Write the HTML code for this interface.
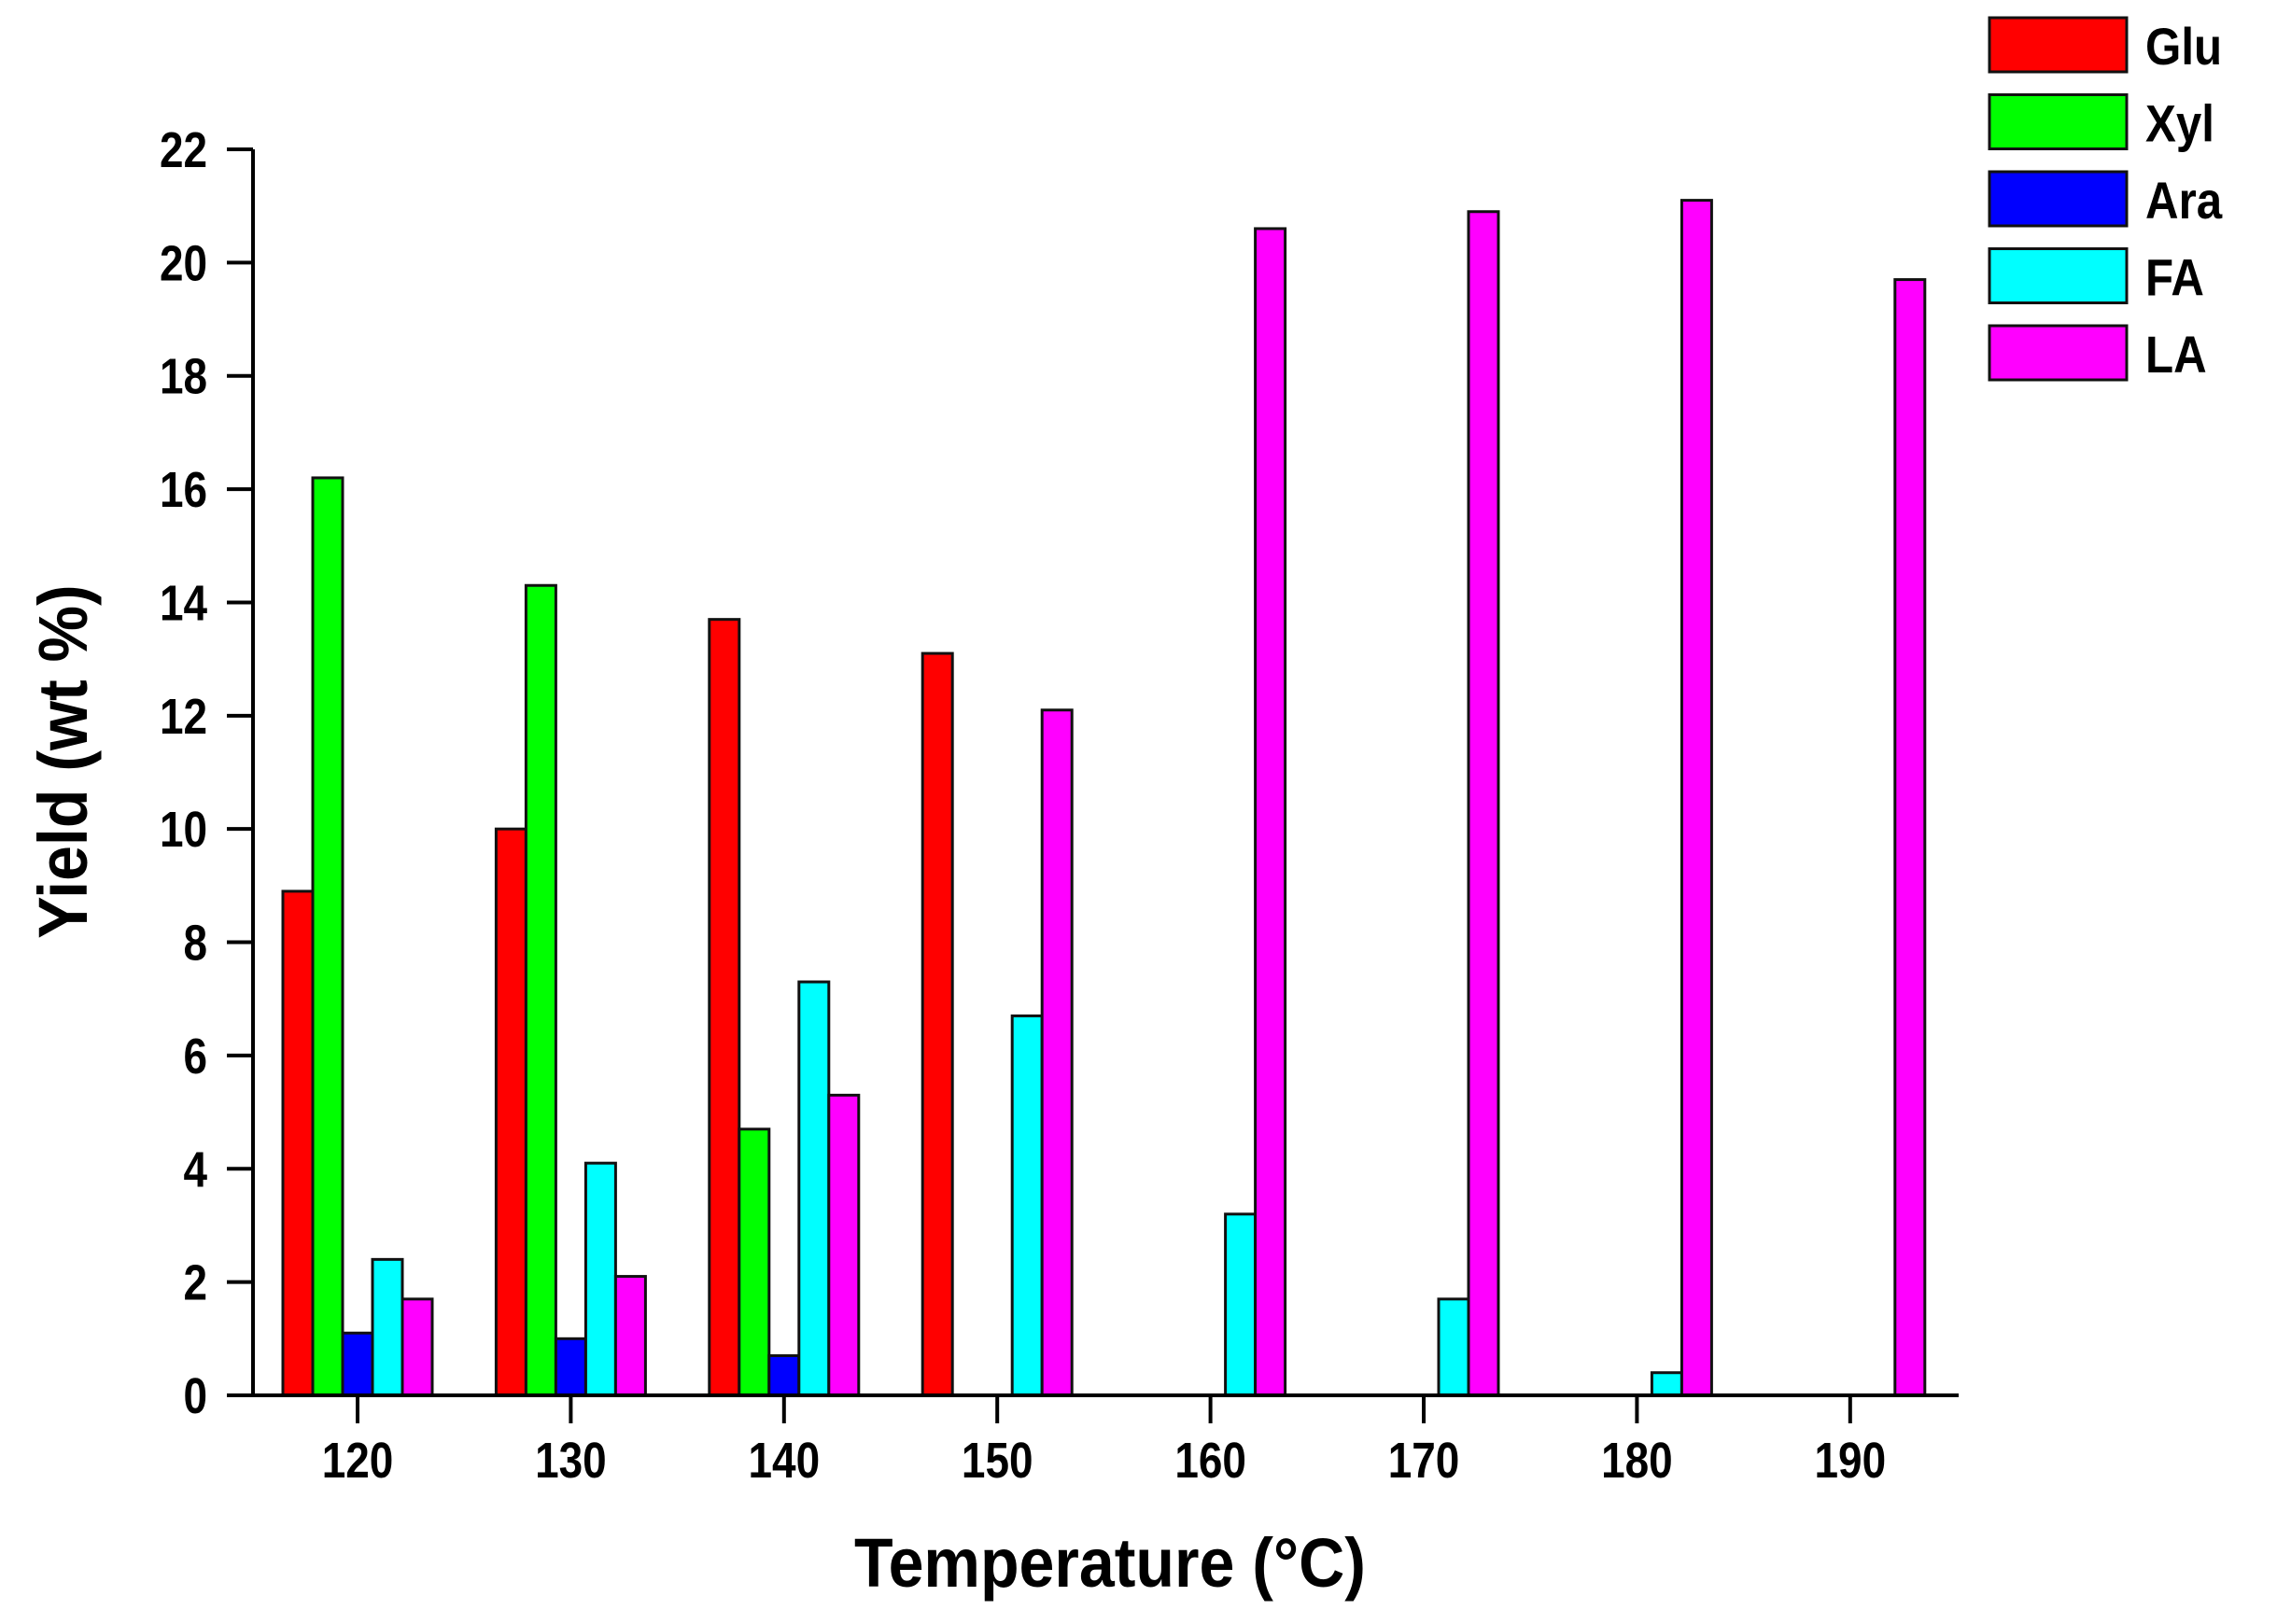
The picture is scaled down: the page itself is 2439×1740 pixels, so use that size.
<!DOCTYPE html>
<html><head><meta charset="utf-8"><style>
html,body{margin:0;padding:0;background:#fff;}
svg{display:block;font-family:"Liberation Sans",Arial,sans-serif;font-weight:bold;}
</style></head><body>
<svg id="chart" width="2439" height="1740" viewBox="0 0 2439 1740" xmlns="http://www.w3.org/2000/svg">
<g id="bars"></g>
<g id="axes"></g>
<text transform="translate(1189,1700) scale(0.92,1)" font-size="74" text-anchor="middle">Temperature (°C)</text>
<text transform="translate(93,816) rotate(-90) scale(0.92,1)" font-size="74" text-anchor="middle">Yield (wt %)</text>
<g id="legend"></g>
</svg>
<script>
const categories = [120,130,140,150,160,170,180,190];
const seriesNames = ["Glu","Xyl","Ara","FA","LA"];
const seriesColors = ["#ff0000","#00ff00","#0000ff","#00ffff","#ff00ff"];
const glu = [8.9,10.0,13.7,13.1,0,0,0,0];
const xyl = [16.2,14.3,4.7,0,0,0,0,0];
const ara = [1.1,1.0,0.7,0,0,0,0,0];
const fa  = [2.4,4.1,7.3,6.7,3.2,1.7,0.4,0];
const la  = [1.7,2.1,5.3,12.1,20.6,20.9,21.1,19.7];
const yTicks = [0,2,4,6,8,10,12,14,16,18,20,22];

const NS="http://www.w3.org/2000/svg";
const X0=271, XEND=2098, Y0=1495, YTOP=160, YMAX=22;
const C0=383, CSTEP=228.4, BW=32;
function xScale(i){return C0+i*CSTEP;}
function yScale(v){return Y0-(v/YMAX)*(Y0-YTOP);}
function mk(tag,attrs,parent){const e=document.createElementNS(NS,tag);for(const k in attrs)e.setAttribute(k,attrs[k]);parent.appendChild(e);return e;}

const series=[glu,xyl,ara,fa,la];
const bars=document.getElementById('bars');
series.forEach((vals,s)=>{
  vals.forEach((v,i)=>{
    if(v<=0)return;
    const x=xScale(i)+(s-2.5)*BW;
    const r=mk('rect',{x:x,y:yScale(v),width:BW,height:Y0-yScale(v),fill:seriesColors[s],stroke:'#111','stroke-width':3},bars);
    
    
  });
});

const axes=document.getElementById('axes');
const ya=mk('line',{x1:X0,y1:YTOP,x2:X0,y2:Y0,stroke:'#000','stroke-width':4},axes);


const xa=mk('line',{x1:X0-28,y1:Y0,x2:XEND,y2:Y0,stroke:'#000','stroke-width':4},axes);


yTicks.forEach(t=>{
  const y=yScale(t);
  mk('line',{x1:X0-28,y1:y,x2:X0,y2:y,stroke:'#000','stroke-width':4},axes);
  const tx=mk('text',{transform:'translate(222,'+(y+19)+') scale(0.85,1)','font-size':54,'text-anchor':'end'},axes);
  tx.textContent=t;
  
  
});
categories.forEach((c,i)=>{
  const x=xScale(i);
  mk('line',{x1:x,y1:Y0,x2:x,y2:Y0+30,stroke:'#000','stroke-width':4},axes);
  const tx=mk('text',{transform:'translate('+x+',1583) scale(0.85,1)','font-size':54,'text-anchor':'middle'},axes);
  tx.textContent=c;
  
  
});

const lg=document.getElementById('legend');
seriesNames.forEach((n,s)=>{
  const y=19+s*82.5;
  const r=mk('rect',{x:2131,y:y,width:147,height:58,fill:seriesColors[s],stroke:'#111','stroke-width':3},lg);
  
  
  const t=mk('text',{transform:'translate(2298,'+(y+50)+') scale(0.88,1)','font-size':56},lg);
  t.textContent=n;
  
  
});
</script>
</body></html>
